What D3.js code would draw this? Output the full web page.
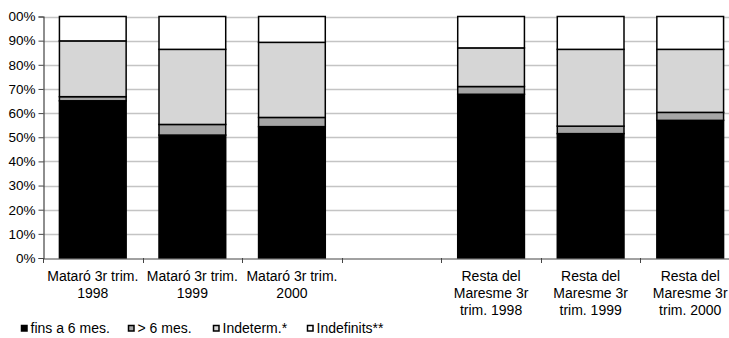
<!DOCTYPE html>
<html>
<head>
<meta charset="utf-8">
<script src="https://cdn.jsdelivr.net/npm/d3@7/dist/d3.min.js"></script>
<style>
  html, body { margin: 0; padding: 0; background: #fff; }
  svg { display: block; }
  text { font-family: "Liberation Sans", Arial, sans-serif; fill: #000; }
</style>
</head>
<body>
<svg id="chart" width="729" height="338"></svg>
<script>
// ---- data ----
const categories = [
  ["Mataró 3r trim.", "1998"],
  ["Mataró 3r trim.", "1999"],
  ["Mataró 3r trim.", "2000"],
  [""],
  ["Resta del", "Maresme 3r", "trim. 1998"],
  ["Resta del", "Maresme 3r", "trim. 1999"],
  ["Resta del", "Maresme 3r", "trim. 2000"]
];
const seriesNames = ["fins a 6 mes.", "> 6 mes.", "Indeterm.*", "Indefinits**"];
const finsA6 =     [65.1, 50.9, 54.4, 0, 67.8, 51.5, 57.0];
const mesDe6 =     [1.7,  4.4,  3.8,  0, 3.2,  3.1,  3.3];
const indeterm =   [23.1, 31.1, 31.1, 0, 16.0, 31.8, 26.1];
const indefinits = [10.1, 13.6, 10.7, 0, 13.0, 13.6, 13.6];
const hasBar =     [true, true, true, false, true, true, true];
const yTickValues = [0,10,20,30,40,50,60,70,80,90,100];
const yTickLabels = ["0%","10%","20%","30%","40%","50%","60%","70%","80%","90%","00%"];
const colors = ["#000000", "#a6a6a6", "#d6d6d6", "#ffffff"];

// ---- build ----
const rows = categories.map((c, i) => ({
  idx: i, has: hasBar[i],
  s0: finsA6[i], s1: mesDe6[i], s2: indeterm[i], s3: indefinits[i]
}));
const keys = ["s0","s1","s2","s3"];
const stacked = d3.stack().keys(keys)(rows.filter(r => r.has));

const svg = d3.select("#chart");
const x = d3.scaleBand().domain(d3.range(categories.length)).range([43, 740]).padding(0);
const y = d3.scaleLinear().domain([0, 100]).range([258, 16.5]);
const barW = x.bandwidth() * 0.67;

// gridlines
svg.append("g")
  .selectAll("line")
  .data(yTickValues.filter(v => v > 0))
  .join("line")
  .attr("x1", 43).attr("x2", 729)
  .attr("y1", d => Math.round(y(d)) + 0.5).attr("y2", d => Math.round(y(d)) + 0.5)
  .attr("stroke", "#c4c4c4").attr("stroke-width", 1.3);

// bars
const layers = svg.append("g").selectAll("g")
  .data(stacked).join("g")
  .attr("fill", (d, i) => colors[i]);
layers.selectAll("rect")
  .data(d => d)
  .join("rect")
  .attr("x", d => x(d.data.idx) + (x.bandwidth() - barW) / 2)
  .attr("width", barW)
  .attr("y", d => y(d[1]))
  .attr("height", d => y(d[0]) - y(d[1]))
  .attr("stroke", "#000").attr("stroke-width", 1.5);

// y axis
const yAxis = d3.axisLeft(y)
  .tickValues(yTickValues)
  .tickFormat((d, i) => yTickLabels[i])
  .tickSize(5).tickPadding(3);
const gy = svg.append("g").attr("transform", "translate(43.5,0)").call(yAxis);
gy.select(".domain").attr("stroke", "#444").attr("stroke-width", 1.2);
gy.selectAll(".tick line").attr("stroke", "#444");
gy.selectAll("text").style("font-size", "13.5px").attr("fill", "#000")
  .style("font-family", "'Liberation Sans', Arial, sans-serif");

// x axis
const xAxis = d3.axisBottom(x).tickSize(0).tickFormat("");
const gx = svg.append("g").attr("transform", "translate(0,258.5)").call(xAxis);
gx.select(".domain").attr("stroke", "#444").attr("stroke-width", 1.2);
// boundary ticks
svg.append("g").selectAll("line")
  .data(d3.range(categories.length + 1))
  .join("line")
  .attr("x1", i => Math.round(43 + i * x.step()) + 0.5)
  .attr("x2", i => Math.round(43 + i * x.step()) + 0.5)
  .attr("y1", 258).attr("y2", 263)
  .attr("stroke", "#444");

// category labels
const lab = svg.append("g").selectAll("text")
  .data(categories).join("text")
  .attr("text-anchor", "middle")
  .style("font-size", "14px")
  .attr("transform", (d, i) => `translate(${x(i) + x.bandwidth() / 2},281)`);
lab.selectAll("tspan")
  .data(d => d).join("tspan")
  .attr("x", 0).attr("dy", (d, i) => i === 0 ? 0 : 17)
  .text(d => d);

// legend
const legendX = [21, 128, 213, 307];
const lg = svg.append("g").selectAll("g")
  .data(seriesNames).join("g")
  .attr("transform", (d, i) => `translate(${legendX[i]},333)`);
lg.append("rect")
  .attr("x", 0.5).attr("y", -7.5).attr("width", 5.5).attr("height", 5.5)
  .attr("fill", (d, i) => colors[i])
  .attr("stroke", "#000").attr("stroke-width", 1.5);
lg.append("text")
  .attr("x", 9.5).attr("y", 0)
  .style("font-size", "14px")
  .text(d => d);
</script>
</body>
</html>
